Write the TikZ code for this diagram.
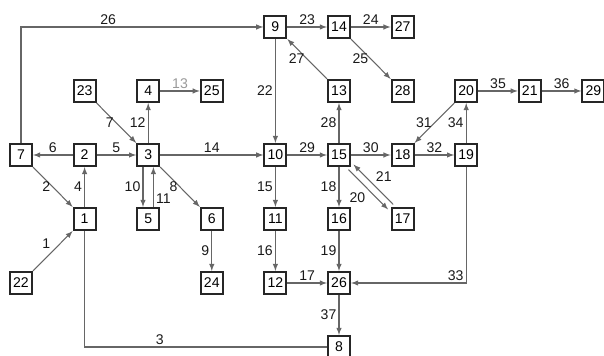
\documentclass[tikz,border=0pt]{standalone}
\usepackage{fontspec}
\setmainfont{Liberation Sans}
\usetikzlibrary{positioning}

\begin{document}
\begin{tikzpicture}[
    node distance=1.6cm and 1.59cm, on grid,
    box/.style={rectangle, draw=black!85, line width=1.5pt, fill=white,
                minimum size=0.55cm, inner sep=1pt, font=\fontsize{10}{12}\selectfont},
    arrow/.style={->, >=latex, draw=black!60, line width=0.75pt},
    lbl/.style={font=\fontsize{10}{12}\selectfont, inner sep=1.5pt, text=black!90}
]
\useasboundingbox (-0.525,-5.025) rectangle (14.575,3.875);
% row of 3
\node[box] (n7) {7};
\node[box, right=of n7] (n2) {2};
\node[box, right=of n2] (n3) {3};
\node[box, above=of n2] (n23) {23};
\node[box, above=of n3] (n4) {4};
\node[box, right=of n4] (n25) {25};
\node[box, below=of n2] (n1) {1};
\node[box, below left=of n1] (n22) {22};
\node[box, below=of n3] (n5) {5};
\node[box, right=of n5] (n6) {6};
\node[box, below=of n6] (n24) {24};
\node[box, right=of n6] (n11) {11};
\node[box, below=of n11] (n12) {12};
\node[box, above=of n11] (n10) {10};
\node[box, right=of n11] (n16) {16};
\node[box, below=of n16] (n26) {26};
\node[box, below=of n26] (n8) {8};
\node[box, right=of n16] (n17) {17};
\node[box, above=of n16] (n15) {15};
\node[box, above=of n17] (n18) {18};
\node[box, right=of n18] (n19) {19};
\node[box, above=of n19] (n20) {20};
\node[box, right=of n20] (n21) {21};
\node[box, right=of n21] (n29) {29};
\node[box, above=of n15] (n13) {13};
\node[box, above=of n18] (n28) {28};
\node[box, above=of n13] (n14) {14};
\node[box, left=of n14] (n9) {9};
\node[box, above=of n28] (n27) {27};
% connectors
\draw[arrow] (n22) -- node[lbl, above left] {1} (n1);
\draw[arrow] (n7) -- node[lbl, left] {2} (n1);
\draw[draw=black!60, line width=0.75pt] (n1) |- node[lbl, pos=0.655, above] {3} (n8);
\draw[arrow] (n1) -- node[lbl, left] {4} (n2);
\draw[arrow] (n2) -- node[lbl, above] {5} (n3);
\draw[arrow] (n2) -- node[lbl, above] {6} (n7);
\draw[arrow] (n23) -- node[lbl, left] {7} (n3);
\draw[arrow] (n3) -- node[lbl, left] {8} (n6);
\draw[arrow] (n6) -- node[lbl, left] {9} (n24);
\draw[arrow] ([xshift=-0.13cm]n3.south) -- node[lbl, left] {10} ([xshift=-0.13cm]n5.north);
\draw[arrow] ([xshift=0.13cm]n5.north) -- node[lbl, right, pos=0.2] {11} ([xshift=0.13cm]n3.south);
\draw[arrow] (n3) -- node[lbl, left] {12} (n4);
\draw[arrow] (n4) -- node[lbl, above, text=black!40] {13} (n25);
\draw[arrow] (n3) -- node[lbl, above] {14} (n10);
\draw[arrow] (n10) -- node[lbl, left] {15} (n11);
\draw[arrow] (n11) -- node[lbl, left] {16} (n12);
\draw[arrow] (n12) -- node[lbl, above] {17} (n26);
\draw[arrow] (n15) -- node[lbl, left] {18} (n16);
\draw[arrow] (n16) -- node[lbl, left] {19} (n26);
\draw[arrow, transform canvas={shift={(-1.8pt,-1.8pt)}}] (n15) -- node[lbl, below left=0.5pt] {20} (n17);
\draw[arrow, transform canvas={shift={(1.8pt,1.8pt)}}] (n17) -- node[lbl, above right] {21} (n15);
\draw[arrow] (n9) -- node[lbl, left] {22} (n10);
\draw[arrow] (n9) -- node[lbl, above] {23} (n14);
\draw[arrow] (n14) -- node[lbl, above] {24} (n27);
\draw[arrow] (n14) -- node[lbl, left] {25} (n28);
\draw[arrow] (n7) |- node[lbl, pos=0.68, above] {26} (n9);
\draw[arrow] (n13) -- node[lbl, left] {27} (n9);
\draw[arrow] (n15) -- node[lbl, left] {28} (n13);
\draw[arrow] (n10) -- node[lbl, above] {29} (n15);
\draw[arrow] (n15) -- node[lbl, above] {30} (n18);
\draw[arrow] (n20) -- node[lbl, left] {31} (n18);
\draw[arrow] (n18) -- node[lbl, above] {32} (n19);
\draw[arrow] (n19) |- node[lbl, pos=0.5, above left] {33} (n26);
\draw[arrow] (n19) -- node[lbl, left] {34} (n20);
\draw[arrow] (n20) -- node[lbl, above] {35} (n21);
\draw[arrow] (n21) -- node[lbl, above] {36} (n29);
\draw[arrow] (n26) -- node[lbl, left] {37} (n8);
\end{tikzpicture}
\end{document}
